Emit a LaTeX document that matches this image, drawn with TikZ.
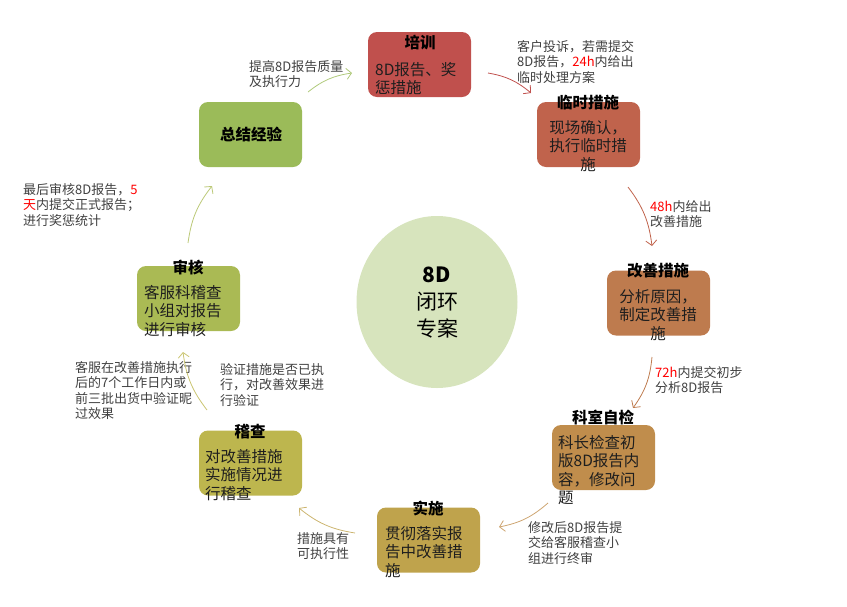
\documentclass[tikz,border=0pt]{standalone}
\usepackage{fontspec}
\setmainfont{Noto Sans CJK SC}
\usetikzlibrary{arrows.meta,shapes.geometric}
\definecolor{cPX}{HTML}{C0504D}
\definecolor{cLS}{HTML}{C0634C}
\definecolor{cGS}{HTML}{BE7B4E}
\definecolor{cKS}{HTML}{C08D4C}
\definecolor{cSS}{HTML}{BFA34C}
\definecolor{cJC}{HTML}{BDB64E}
\definecolor{cSH}{HTML}{AABA54}
\definecolor{cZJ}{HTML}{9BBB59}
\definecolor{cCirc}{HTML}{D7E4BD}
\definecolor{lblgray}{HTML}{404040}
\definecolor{bodytxt}{HTML}{1E1E1E}
\definecolor{hred}{HTML}{FF0000}
\tikzset{
  stagebox/.style={rounded corners=9pt, minimum width=103pt, minimum height=65pt, inner sep=0pt},
  ttl/.style={font=\fontsize{15.5}{18}\selectfont\bfseries, text=black, inner sep=0pt},
  bodyL/.style={font=\fontsize{15.5}{18.5}\selectfont, text=bodytxt, align=left, anchor=north west, inner sep=0pt},
  bodyC/.style={font=\fontsize{15.5}{18.5}\selectfont, text=bodytxt, align=center, anchor=north, inner sep=0pt},
  lbl/.style={font=\fontsize{13}{15.5}\selectfont, text=lblgray, align=left, anchor=north west, inner sep=0pt},
  flow/.style={line width=0.8pt, -{Straight Barb[length=5pt,width=11pt]}, bend left=15},
}
\begin{document}
\begin{tikzpicture}[x=1pt,y=-1pt]
\useasboundingbox (0,0) rectangle (847,606);
% centre
\node[ellipse, fill=cCirc, minimum width=161pt, minimum height=172pt, inner sep=0pt] (centre) at (437,302) {};
\node[font=\fontsize{21}{27}\selectfont, align=center, inner sep=0pt] (centretxt) at (437,303) {\textbf{8D}\\闭环\\专案};
% boxes
\node[stagebox, fill=cPX] (px) at (419.5,64.5) {};
\node[stagebox, fill=cLS] (ls) at (588.5,134.5) {};
\node[stagebox, fill=cGS] (gs) at (658.5,303) {};
\node[stagebox, fill=cKS] (ks) at (603.5,457.5) {};
\node[stagebox, fill=cSS] (ss) at (428.5,540) {};
\node[stagebox, fill=cJC] (jc) at (250.5,463) {};
\node[stagebox, fill=cSH] (sh) at (188.5,298.5) {};
\node[stagebox, fill=cZJ] (zj) at (250.5,134.5) {};
% titles
\node[ttl] (pxt) at (420,43) {培训};
\node[ttl] (lst) at (588,103) {临时措施};
\node[ttl] (gst) at (658,271) {改善措施};
\node[ttl] (kst) at (603,417) {科室自检};
\node[ttl] (sst) at (428,508) {实施};
\node[ttl] (jct) at (250,432) {稽查};
\node[ttl] (sht) at (188,267) {审核};
\node[ttl] (zjt) at (251,134) {总结经验};
% bodies
\node[bodyL] (pxb) at (375,62) {8D报告、奖\\惩措施};
\node[bodyC] (lsb) at (588,120) {现场确认，\\执行临时措\\施};
\node[bodyC] (gsb) at (658,289) {分析原因，\\制定改善措\\施};
\node[bodyL] (ksb) at (558,435) {科长检查初\\版8D报告内\\容，修改问\\题};
\node[bodyL] (ssb) at (385,526) {贯彻落实报\\告中改善措\\施};
\node[bodyL] (jcb) at (205,449) {对改善措施\\实施情况进\\行稽查};
\node[bodyL] (shb) at (144,285) {客服科稽查\\小组对报告\\进行审核};
% labels
\node[lbl] (l1) at (249,60) {提高8D报告质量\\及执行力};
\node[lbl] (l2) at (517,40) {客户投诉，若需提交\\8D报告，\textcolor{hred}{24h}内给出\\临时处理方案};
\node[lbl] (l3) at (650,200) {\textcolor{hred}{48h}内给出\\改善措施};
\node[lbl] (l4) at (655,366) {\textcolor{hred}{72h}内提交初步\\分析8D报告};
\node[lbl] (l5) at (528,521) {修改后8D报告提\\交给客服稽查小\\组进行终审};
\node[lbl] (l6) at (297,532) {措施具有\\可执行性};
\node[lbl] (l7) at (220,363) {验证措施是否已执\\行，对改善效果进\\行验证};
\node[lbl] (l8) at (75,361) {客服在改善措施执行\\后的7个工作日内或\\前三批出货中验证昵\\过效果};
\node[lbl] (l9) at (23,183) {最后审核8D报告，\textcolor{hred}{5}\\\textcolor{hred}{天}内提交正式报告；\\进行奖惩统计};
% arrow end points
\coordinate (a1s) at (308,92);  \coordinate (a1e) at (352,73);
\coordinate (a2s) at (488,73);  \coordinate (a2e) at (531,93);
\coordinate (a3s) at (628,187); \coordinate (a3e) at (652,246);
\coordinate (a4s) at (652,357); \coordinate (a4e) at (633,408);
\coordinate (a5s) at (548,503); \coordinate (a5e) at (499,527);
\coordinate (a6s) at (355,533); \coordinate (a6e) at (299,508);
\coordinate (a7s) at (207,410); \coordinate (a7e) at (183,352);
\coordinate (a8s) at (188,243); \coordinate (a8e) at (212,186);
\draw[flow, draw=cZJ!80] (a1s) to (a1e);
\draw[flow, draw=cPX] (a2s) to (a2e);
\draw[flow, draw=cLS] (a3s) to (a3e);
\draw[flow, draw=cGS] (a4s) to (a4e);
\draw[flow, draw=cKS!80] (a5s) to (a5e);
\draw[flow, draw=cSS!80] (a6s) to (a6e);
\draw[flow, draw=cJC!80] (a7s) to (a7e);
\draw[flow, draw=cSH!80] (a8s) to (a8e);
\end{tikzpicture}
\end{document}
